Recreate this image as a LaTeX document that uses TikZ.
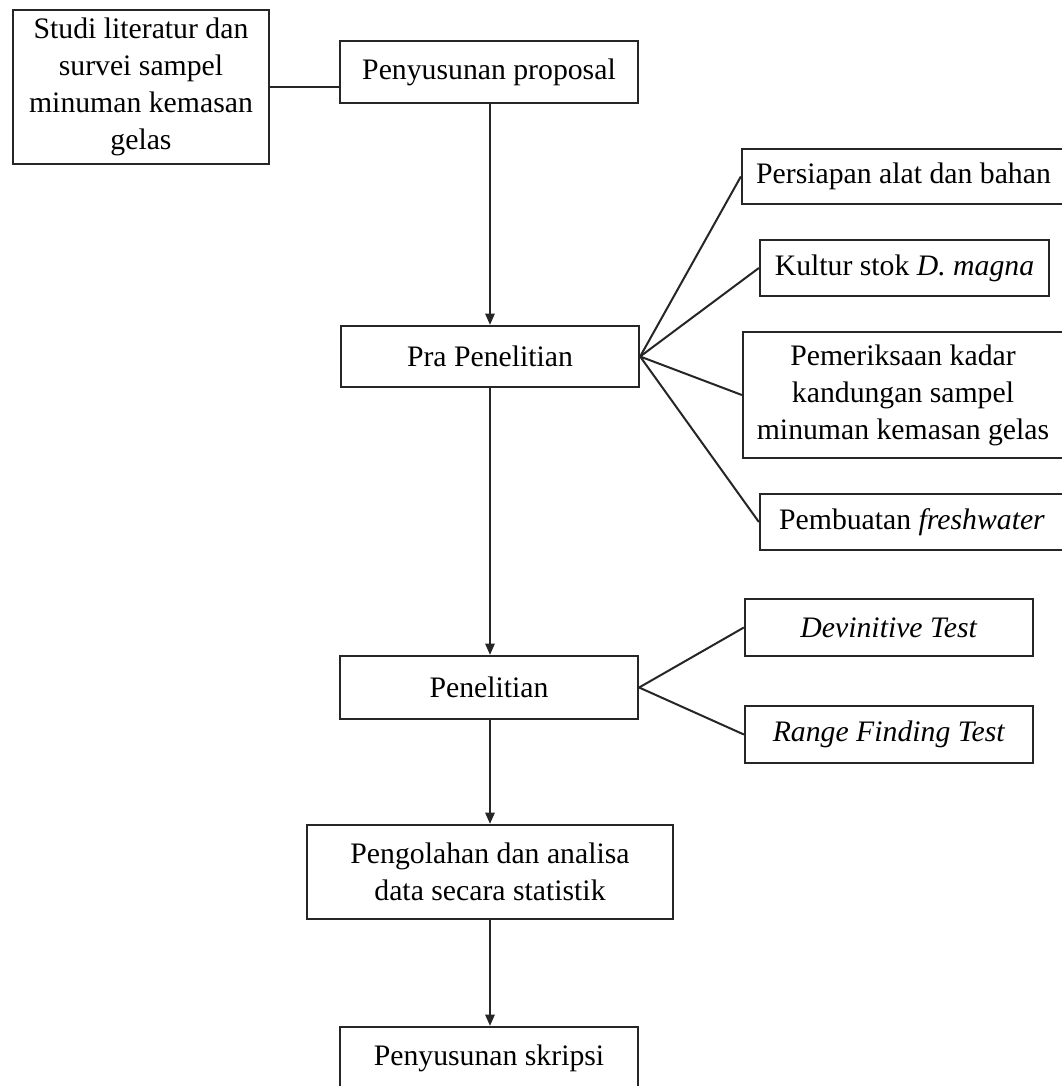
\documentclass[tikz,border=0pt]{standalone}
\usepackage{fontspec}
\setmainfont{Liberation Serif}
\usetikzlibrary{arrows.meta}
\begin{document}
\begin{tikzpicture}[x=0.75pt,y=-0.75pt,
  box/.style={draw=black!85,line width=1.7pt,inner sep=0pt,align=center,
    font=\fontsize{22.3}{27.8}\selectfont},
  link/.style={draw=black!85,line width=1.5pt},
  arr/.style={link,-{Triangle[length=8.5pt,width=7pt]}}]
\path[use as bounding box] (0,0) rectangle (1062,1086);
\clip (0,0) rectangle (1062,1086);
\fill[white] (0,0) rectangle (1062,1086);
% main column
\node[box,minimum width=256*0.75pt,minimum height=154*0.75pt] (studi) at (141,87)
  {Studi literatur dan\\survei sampel\\minuman kemasan\\gelas};
\node[box,minimum width=298*0.75pt,minimum height=62*0.75pt] (prop) at (489,72)
  {Penyusunan proposal};
\node[box,minimum width=298*0.75pt,minimum height=61*0.75pt] (pra) at (490,356.5)
  {Pra Penelitian};
\node[box,minimum width=298*0.75pt,minimum height=63*0.75pt] (pen) at (489,687.5)
  {Penelitian};
\node[box,minimum width=366*0.75pt,minimum height=94*0.75pt] (olah) at (490,872)
  {Pengolahan dan analisa\\data secara statistik};
\node[box,minimum width=298*0.75pt,minimum height=63*0.75pt] (skr) at (489,1058.5)
  {Penyusunan skripsi};
% right column
\node[box,minimum width=323*0.75pt,minimum height=55*0.75pt] (alat) at (903.5,176.5)
  {Persiapan alat dan bahan};
\node[box,minimum width=289*0.75pt,minimum height=56*0.75pt] (kultur) at (904.5,268)
  {Kultur stok \textit{D. magna}};
\node[box,minimum width=320*0.75pt,minimum height=126*0.75pt] (periksa) at (903,395)
  {Pemeriksaan kadar\\kandungan sampel\\minuman kemasan gelas};
\node[box,minimum width=304*0.75pt,minimum height=56*0.75pt] (fresh) at (912,522)
  {Pembuatan \textit{freshwater}};
\node[box,minimum width=288*0.75pt,minimum height=57*0.75pt] (devin) at (889,627.5)
  {\textit{Devinitive Test}};
\node[box,minimum width=288*0.75pt,minimum height=57*0.75pt] (range) at (889,734.5)
  {\textit{Range Finding Test}};
% connectors
\draw[link] (studi.east) -- (studi.east -| prop.west);
\draw[arr] (prop.south -| pra.north) -- (pra.north);
\draw[arr] (pra.south) -- (pra.south |- pen.north);
\draw[arr] (pen.south -| olah.north) -- (olah.north);
\draw[arr] (olah.south) -- (olah.south |- skr.north);
\draw[link] (pra.east) -- (alat.west);
\draw[link] (pra.east) -- (kultur.west);
\draw[link] (pra.east) -- (periksa.west);
\draw[link] (pra.east) -- (fresh.west);
\draw[link] (pen.east) -- (devin.west);
\draw[link] (pen.east) -- (range.west);
\end{tikzpicture}
\end{document}
